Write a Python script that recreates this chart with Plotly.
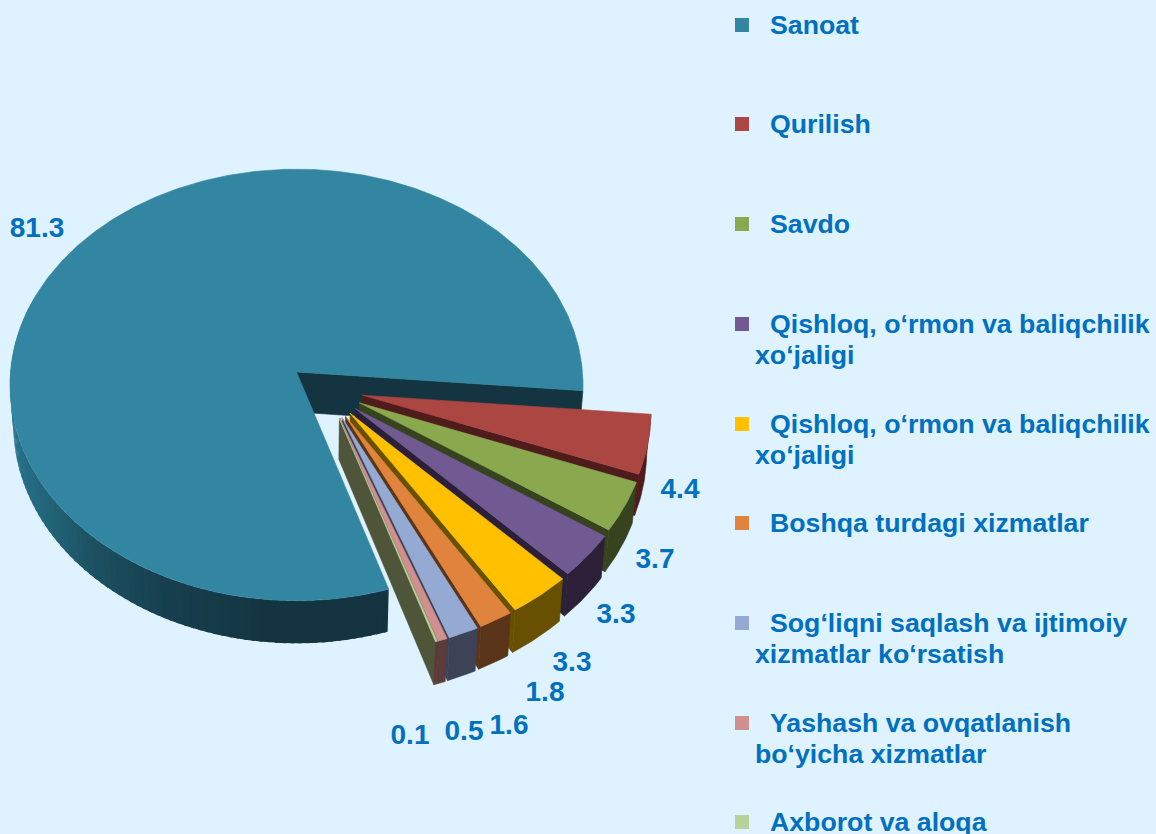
import math
import plotly.graph_objects as go

# ---- data ----
CATEGORIES = ["Sanoat", "Qurilish", "Savdo",
              "Qishloq, o‘rmon va baliqchilik xo‘jaligi",
              "Qishloq, o‘rmon va baliqchilik xo‘jaligi",
              "Boshqa turdagi xizmatlar",
              "Sog‘liqni saqlash va ijtimoiy xizmatlar ko‘rsatish",
              "Yashash va ovqatlanish bo‘yicha xizmatlar",
              "Axborot va aloqa"]
VALUES = [81.3, 4.4, 3.7, 3.3, 3.3, 1.8, 1.6, 0.5, 0.1]
VALUE_LABELS = ["81.3", "4.4", "3.7", "3.3", "3.3", "1.8", "1.6", "0.5", "0.1"]

# ---- styles ----
TOP_COLORS = ["#3286a1", "#ab4642", "#8aa84e", "#715a92", "#ffc000",
              "#e0833c", "#95aad3", "#d18f8f", "#b8d39a"]
WALL_COLORS = ["#133440", "#4d1c1b", "#37421e", "#2b2038", "#675000",
               "#5a3418", "#3c4356", "#5c3b3d", "#4e5539"]
BG = "#dff2ff"
TEXT = "#0070c0"
FONT = "Liberation Sans, Arial, sans-serif"

LABEL_X = [37, 680, 655, 616, 572, 545, 509, 464, 410]
LABEL_Y = [230, 491, 561, 616, 664, 694, 727, 733, 737]

LEGEND_LINES = [["Sanoat"], ["Qurilish"], ["Savdo"],
                ["Qishloq, o‘rmon va baliqchilik", "xo‘jaligi"],
                ["Qishloq, o‘rmon va baliqchilik", "xo‘jaligi"],
                ["Boshqa turdagi xizmatlar"],
                ["Sog‘liqni saqlash va ijtimoiy", "xizmatlar ko‘rsatish"],
                ["Yashash va ovqatlanish", "bo‘yicha xizmatlar"],
                ["Axborot va aloqa"]]
LEGEND_Y = [25, 124, 224, 324, 424, 523, 623, 723, 822]
LEGEND_LINE_GAP = 31

# ---- projection of the tilted disc on to the page ----
CX, CY, RX, RY, K, DEPTH = 296.5, 372.0, 286.0, 215.0, -0.06, 40.0
START = 162.3  # clockwise from top, where the first slice begins


def project(u, v, bottom=False):
    den = 1 + K * v
    x = CX + RX * u / den
    y = CY + RY * v / den
    if bottom:
        x = CX + 0.988 * (x - CX)
        y += DEPTH / den
    return x, y


def rim(theta, du, dv, bottom=False):
    t = math.radians(theta)
    return project(math.sin(t) + du, -math.cos(t) + dv, bottom)


def arc(a0, a1, du, dv, bottom=False):
    n = max(3, int(abs(a1 - a0) * 1.5))
    return [rim(a0 + (a1 - a0) * i / n, du, dv, bottom) for i in range(n + 1)]


fig = go.Figure()


def poly(points, color, name, lw=0.6):
    xs = [p[0] for p in points] + [points[0][0]]
    ys = [p[1] for p in points] + [points[0][1]]
    fig.add_trace(go.Scatter(x=xs, y=ys, mode="lines", fill="toself", fillcolor=color,
                             line=dict(color=color, width=lw), name=name,
                             hoverinfo="name", showlegend=False))


def mix(x):
    stops = [(15, (0x27, 0x71, 0x8a)), (50, (0x22, 0x64, 0x78)), (100, (0x1c, 0x50, 0x60)),
             (167, (0x17, 0x40, 0x4f)), (280, (0x13, 0x34, 0x40))]
    if x <= stops[0][0]:
        c = stops[0][1]
    elif x >= stops[-1][0]:
        c = stops[-1][1]
    else:
        for (x0, c0), (x1, c1) in zip(stops, stops[1:]):
            if x0 <= x <= x1:
                f = (x - x0) / (x1 - x0)
                c = tuple(c0[i] + (c1[i] - c0[i]) * f for i in range(3))
                break
    return "rgb(%d,%d,%d)" % tuple(round(i) for i in c)


total = sum(VALUES)
spans = [v / total * 360 for v in VALUES]

# first slice: stays at the centre. Wall painted back to front so that the
# overlap of one band on the next hides the seams.
a0, a1 = START, START + spans[0]
step = 1.5
th = 290.0
while th > a0:
    t0 = max(a0, th - step)
    seg = arc(t0, th + 0.6, 0, 0) + arc(th + 0.6, t0, 0, 0, True)
    poly(seg, mix(seg[0][0]), CATEGORIES[0], lw=0)
    th -= step
apex = project(0, 0)
apex_b = project(0, 0, True)
poly([apex, rim(a1, 0, 0), rim(a1, 0, 0, True), apex_b], WALL_COLORS[0], CATEGORIES[0])
poly([apex] + arc(a0, a1, 0, 0), TOP_COLORS[0], CATEGORIES[0])

# remaining slices: pulled out of the pie
th = a1 - 360
for i in range(1, len(VALUES)):
    b0, b1 = th, th + spans[i]
    th = b1
    mid = math.radians((b0 + b1) / 2)
    du = 0.111 + 0.1206 * math.sin(mid)
    dv = 0.0744 - 0.147 * math.cos(mid)
    p = project(du, dv)
    pb = project(du, dv, True)
    # cut face on the near side
    poly([p, rim(b1, du, dv), rim(b1, du, dv, True), pb],
         WALL_COLORS[-1] if i == len(VALUES) - 1 else WALL_COLORS[i], CATEGORIES[i])
    # outer wall
    wall = WALL_COLORS[i] if i < len(VALUES) - 1 else WALL_COLORS[-2]
    poly(arc(b0, b1, du, dv) + arc(b1, b0, du, dv, True), wall, CATEGORIES[i])
    # top
    poly([p] + arc(b0, b1, du, dv), TOP_COLORS[i], CATEGORIES[i])

# value labels
fig.add_trace(go.Scatter(x=LABEL_X, y=LABEL_Y, mode="text", text=VALUE_LABELS,
                         textposition="middle center", hoverinfo="skip", showlegend=False,
                         textfont=dict(family=FONT, size=28, color=TEXT, weight="bold")))

# legend
fig.add_trace(go.Scatter(x=[742] * len(LEGEND_Y), y=LEGEND_Y, mode="markers",
                         marker=dict(symbol="square", size=14, color=TOP_COLORS, line=dict(width=0)),
                         text=CATEGORIES, hoverinfo="text", showlegend=False))
for lines, y in zip(LEGEND_LINES, LEGEND_Y):
    for j, line in enumerate(lines):
        fig.add_annotation(x=769 if j == 0 else 754, y=y + j * LEGEND_LINE_GAP, text=line,
                           xref="x", yref="y", xanchor="left", yanchor="middle",
                           showarrow=False, borderpad=0,
                           font=dict(family=FONT, size=26.7, color=TEXT, weight="bold"))

fig.update_layout(width=1156, height=834, margin=dict(l=0, r=0, t=0, b=0),
                  paper_bgcolor=BG, plot_bgcolor=BG, showlegend=False,
                  xaxis=dict(range=[0, 1156], visible=False, fixedrange=True),
                  yaxis=dict(range=[834, 0], visible=False, fixedrange=True))
fig.write_html("out.html", config={"displayModeBar": False},
               post_script="document.body.style.margin='0';document.body.style.overflow='hidden';document.documentElement.style.background='%s';" % BG)
